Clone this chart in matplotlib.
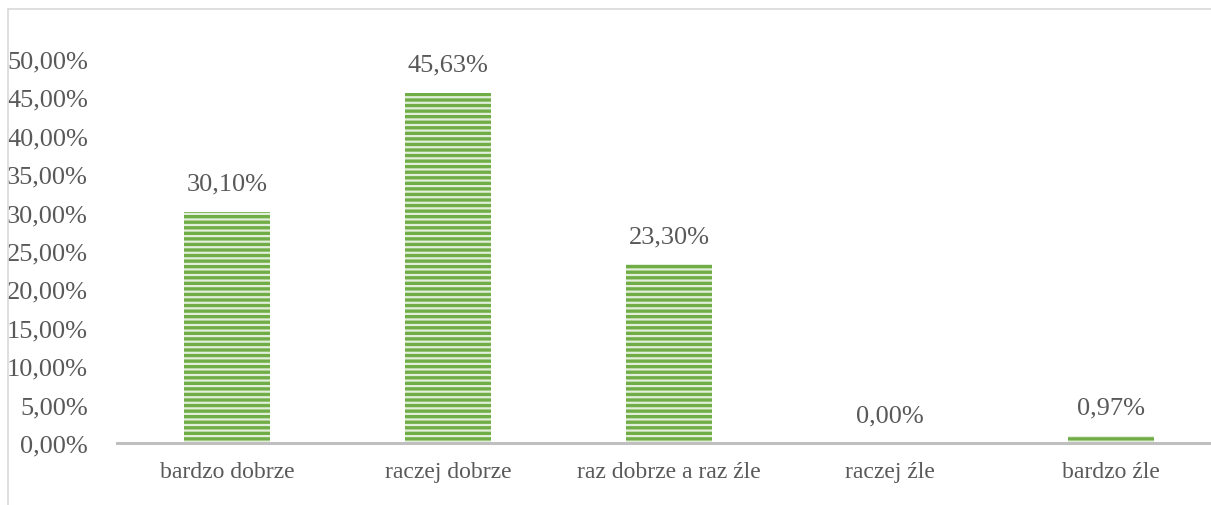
import matplotlib.pyplot as plt
from matplotlib.lines import Line2D

# dane
categories = ["bardzo dobrze", "raczej dobrze", "raz dobrze a raz źle", "raczej źle", "bardzo źle"]
values = [30.10, 45.63, 23.30, 0.00, 0.97]
yticks = [0, 5, 10, 15, 20, 25, 30, 35, 40, 45, 50]

plt.rcParams['font.family'] = ['Liberation Serif', 'DejaVu Serif']
plt.rcParams['hatch.linewidth'] = 1.6
text_col = '#595959'

W, H = 1211, 506
fig = plt.figure(figsize=(W / 100, H / 100), dpi=100)
# obszar wykresu (w pikselach): lewo 116.5, szerokosc 1105, dol 444, gora 60
ax = fig.add_axes([116.5 / W, (H - 444) / H, 1105 / W, (444 - 60) / H])

x = range(len(categories))
ax.bar(x, values, width=0.385, color='#70AD47', edgecolor='#E2EFDA',
       hatch='---', linewidth=0, zorder=2)

for xi, v in zip(x, values):
    ax.text(xi, v + 2.2, f"{v:.2f}%".replace('.', ','), ha='center', va='bottom',
            fontsize=19, color=text_col)

ax.set_xlim(-0.5, len(categories) - 0.5)
ax.set_ylim(0, 50)
ax.set_yticks(yticks)
ax.set_yticklabels([f"{t:.2f}%".replace('.', ',') for t in yticks], fontsize=19, color=text_col)
ax.set_xticks(list(x))
ax.set_xticklabels(categories, fontsize=17, color=text_col)
ax.tick_params(axis='y', length=0, pad=20.5)
ax.tick_params(axis='x', length=0, pad=13)

for s in ['top', 'right', 'left']:
    ax.spines[s].set_visible(False)
ax.spines['bottom'].set_color('#BFBFBF')
ax.spines['bottom'].set_linewidth(2.2)
ax.spines['bottom'].set_zorder(3)

# ramka wykresu (widoczna gora i lewa krawedz)
fig.add_artist(Line2D([8 / W, 1], [1 - 10 / H, 1 - 10 / H], color='#D9D9D9', lw=1.2))
fig.add_artist(Line2D([8 / W, 8 / W], [0, 1 - 10 / H], color='#D9D9D9', lw=1.2))

fig.savefig('out.png', dpi=100)
